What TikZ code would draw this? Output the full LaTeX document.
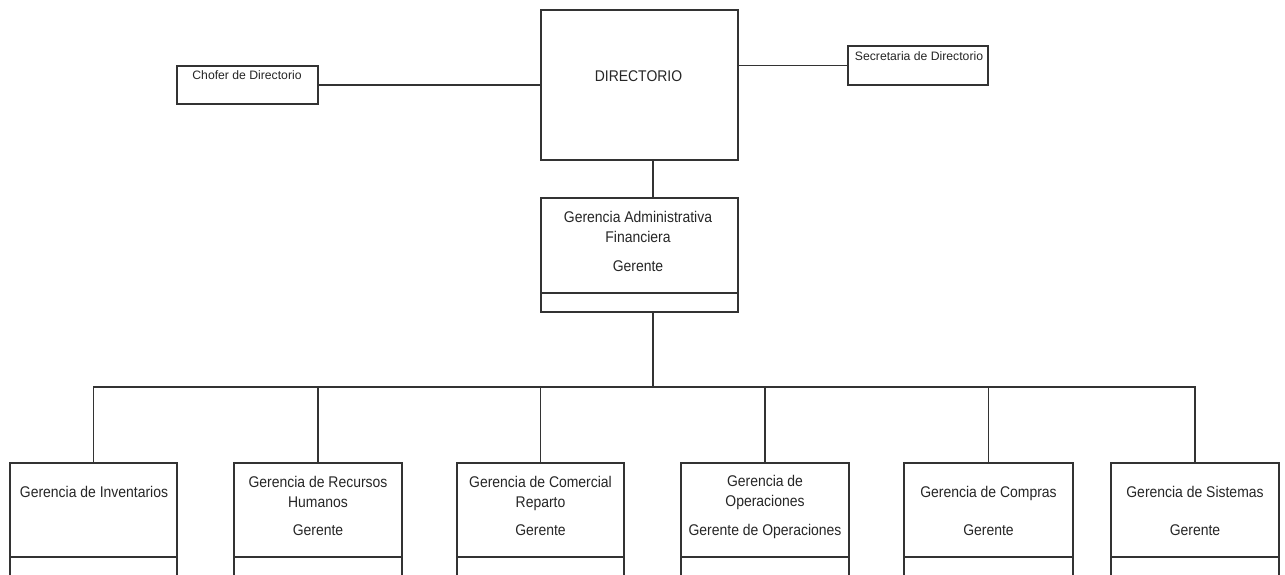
\documentclass[tikz,border=0pt]{standalone}
\usepackage{fontspec}
\setmainfont{Liberation Sans}
\newfontfamily\labfont[FakeStretch=0.9]{Liberation Sans}
\newfontfamily\smallfont{Liberation Sans}
\usetikzlibrary{calc}
\tikzset{
  box/.style={draw=black!80, line width=1.1pt, rectangle, inner sep=0pt, outer sep=0pt, anchor=north west},
  conn/.style={draw=black!80, line width=1.1pt},
  lbl/.style={anchor=base, inner sep=0pt, text=black!85, font=\labfont\fontsize{15.5}{18}\selectfont},
  slbl/.style={anchor=base, inner sep=0pt, text=black!85, font=\smallfont\fontsize{12.2}{14}\selectfont},
}
\begin{document}
\begin{tikzpicture}[x=1pt,y=-1pt]
\path[use as bounding box] (0,0) rectangle (1285,574);
\clip (0,0) rectangle (1285,574);
\fill[white] (0,0) rectangle (1285,574);

% top level boxes
\node[box, line width=2.2pt, minimum width=197pt, minimum height=150pt] (dir) at (541,10) {};
\node[box, minimum width=141pt, minimum height=38pt] (chofer) at (177,66) {};
\node[box, minimum width=140pt, minimum height=39pt] (sec) at (848,46) {};
\node[box, minimum width=197pt, minimum height=114pt] (gaf) at (541,198) {};

% children
\node[box, minimum width=167pt, minimum height=140pt] (c1) at (10,463) {};
\node[box, minimum width=168pt, minimum height=140pt] (c2) at (234,463) {};
\node[box, minimum width=167pt, minimum height=140pt] (c3) at (457,463) {};
\node[box, minimum width=168pt, minimum height=140pt] (c4) at (681,463) {};
\node[box, minimum width=169pt, minimum height=140pt] (c5) at (904,463) {};
\node[box, minimum width=168pt, minimum height=140pt] (c6) at (1111,463) {};

% dividers
\draw[conn] ($(gaf.south west)+(0,-19)$) -- ($(gaf.south east)+(0,-19)$);
\foreach \c in {c1,c2,c3,c4,c5,c6}{
  \draw[conn] ($(\c.north west)+(0,94)$) -- ($(\c.north east)+(0,94)$);
}

% connectors
\coordinate (bus) at (653,387);
\draw[conn] (chofer.east) -- (chofer.east -| dir.west);
\draw[conn] (sec.west) -- (sec.west -| dir.east);
\draw[conn] ([xshift=13.5pt]dir.south) -- ([xshift=13.5pt]gaf.north);
\draw[conn] ([xshift=13.5pt]gaf.south) -- (bus);
\draw[conn] (c1.north) |- (bus) -| (c6.north);
\foreach \c in {c2,c3,c4,c5}{
  \draw[conn] (\c.north) -- (\c.north |- bus);
}

% labels
\node[lbl] (tdir) at (638.5,81) {DIRECTORIO};
\node[slbl] (tchofer) at (247,79) {Chofer de Directorio};
\node[slbl] (tsec) at (919,60) {Secretaria de Directorio};

\node[lbl] (tgaf1) at (638,222) {Gerencia Administrativa};
\node[lbl] (tgaf2) at (638,242) {Financiera};
\node[lbl] (tgaf3) at (638,271.5) {Gerente};

\node[lbl] (tc1a) at (94,497) {Gerencia de Inventarios};

\node[lbl] (tc2a) at (318,487) {Gerencia de Recursos};
\node[lbl] (tc2b) at (318,507.5) {Humanos};
\node[lbl] (tc2c) at (318,535) {Gerente};

\node[lbl] (tc3a) at (540.5,487) {Gerencia de Comercial};
\node[lbl] (tc3b) at (540.5,507.5) {Reparto};
\node[lbl] (tc3c) at (540.5,535) {Gerente};

\node[lbl] (tc4a) at (765,486.5) {Gerencia de};
\node[lbl] (tc4b) at (765,506.5) {Operaciones};
\node[lbl] (tc4c) at (765,535) {Gerente de Operaciones};

\node[lbl] (tc5a) at (988.5,497) {Gerencia de Compras};
\node[lbl] (tc5b) at (988.5,535) {Gerente};

\node[lbl] (tc6a) at (1195,497) {Gerencia de Sistemas};
\node[lbl] (tc6b) at (1195,535) {Gerente};
\end{tikzpicture}
\end{document}
